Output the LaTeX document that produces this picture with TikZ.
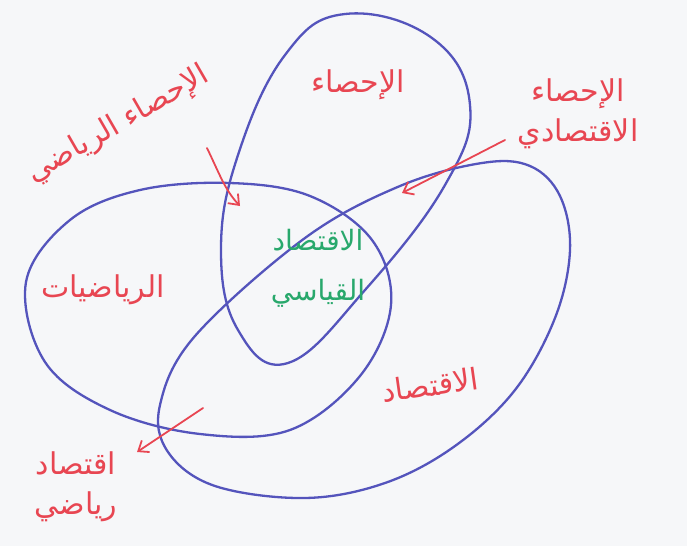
\documentclass[tikz,border=0pt]{standalone}
\usepackage{fontspec}
\TeXXeTstate=1
\newfontfamily\arabicfont[Script=Arabic]{DejaVu Sans}
\usetikzlibrary{arrows.meta}
\definecolor{penblue}{RGB}{84,84,188}
\definecolor{penred}{RGB}{232,70,82}
\definecolor{pengreen}{RGB}{40,168,108}
\definecolor{paper}{RGB}{246,247,249}
\tikzset{
  setline/.style={draw=penblue, line width=2.3pt, line join=round},
  lbl/.style={text=penred, font=\arabicfont\fontsize{30}{40}\selectfont, align=center, inner sep=1pt},
  core/.style={text=pengreen, font=\arabicfont\fontsize{28}{50}\selectfont, align=center, inner sep=1pt},
  pointer/.style={draw=penred, line width=1.8pt, line cap=round, -{Straight Barb[length=9pt,width=14pt,line width=1.8pt]}}
}
\begin{document}
\begin{tikzpicture}[x=1pt,y=-1pt]
\fill[paper] (0,0) rectangle (687,546);
\useasboundingbox (0,0) rectangle (687,546);

% statistics (top)
\draw[setline] plot[smooth cycle, tension=0.7] coordinates {
 (345,14) (432,38) (470,105) (445,185) (365,290) (288,363)
 (238,330) (221,250) (238,155) (285,55)};
% mathematics (left)
\draw[setline] plot[smooth cycle, tension=0.6] coordinates {
 (26,282) (45,362) (110,410) (200,434) (290,430) (360,376) (391,305)
 (372,240) (310,196) (230,183) (140,190) (70,220)};
% economics (right)
\draw[setline] plot[smooth cycle, tension=0.6] coordinates {
 (482,163) (530,166) (560,196) (570,250) (555,318) (515,390) (455,446)
 (385,483) (305,498) (215,486) (168,452) (160,405) (195,336) (305,238) (400,186)};

% labels
\node[lbl] (stat) at (358,85) {\beginR الإحصاء\endR};
\node[lbl, rotate=30] (mstat) at (118,125) {\beginR الإحصاء الرياضي\endR};
\node[lbl] (estat) at (578,114) {\beginR الإحصاء\endR\\ \beginR الاقتصادي\endR};
\node[core] (ecmx) at (318,268) {\beginR الاقتصاد\endR\\ \beginR القياسي\endR};
\node[lbl] (math) at (103,290) {\beginR الرياضيات\endR};
\node[lbl, rotate=8] (econ) at (430,385) {\beginR الاقتصاد\endR};
\node[lbl] (mecon) at (76,487) {\beginR اقتصاد\endR\\ \beginR رياضي\endR};

% pointers
\coordinate (p1s) at (207,148);
\coordinate (p1e) at (240,206);
\coordinate (p2s) at (505,140);
\coordinate (p2e) at (402,193);
\coordinate (p3s) at (203,408);
\coordinate (p3e) at (137,452);
\draw[pointer] (p1s) .. controls (220,175) and (225,190) .. (p1e);
\draw[pointer] (p2s) -- (p2e);
\draw[pointer] (p3s) -- (p3e);
\end{tikzpicture}
\end{document}
